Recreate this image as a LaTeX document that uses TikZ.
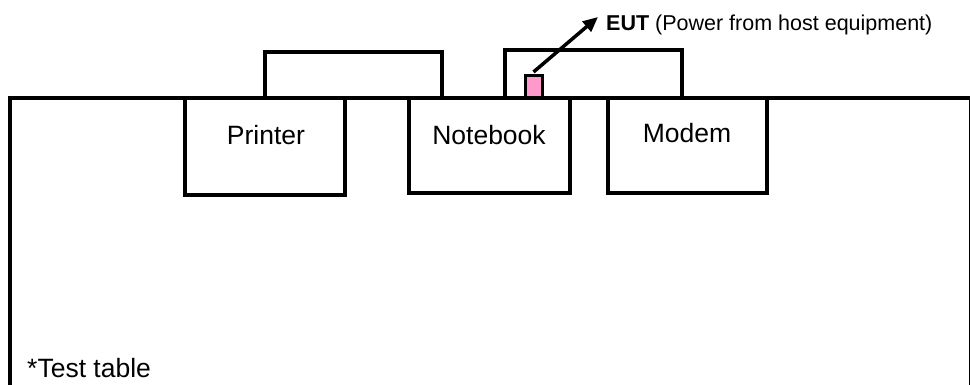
\documentclass[tikz,border=0pt]{standalone}
\usepackage{fontspec}
\setmainfont{Liberation Sans}
\usetikzlibrary{arrows.meta}
\definecolor{eutpink}{HTML}{FF99CC}
\begin{document}
\begin{tikzpicture}[x=1pt,y=-1pt,
  box/.style={draw=black,line width=3.5pt,fill=white,inner sep=0pt,outer sep=0pt,anchor=north west},
  lbl/.style={inner sep=0pt,anchor=base,font=\fontsize{26.5}{30}\selectfont},
  note/.style={inner sep=0pt,anchor=base west,font=\fontsize{21.5}{25}\selectfont},
  pointer/.style={line width=3.5pt,-{Triangle[length=15pt,width=13pt]}}]
\useasboundingbox (0,0) rectangle (970,385);
\begin{scope}
\clip (0,0) rectangle (970,385);
% upper parts
\node[box,minimum width=177pt,minimum height=46pt] (printertop) at (265,52) {};
\node[box,minimum width=177pt,minimum height=48pt] (screen) at (505,50) {};
% table
\draw[line width=3.5pt] (10,430) -- (10,98) -- (971,98) -- (971,430);
% base boxes
\node[box,minimum width=160pt,minimum height=97pt] (printer) at (185,98) {};
\node[box,minimum width=161pt,minimum height=95pt] (notebook) at (409,98) {};
\node[box,minimum width=159pt,minimum height=95pt] (modem) at (608,98) {};
% EUT
\node[draw=black,line width=3pt,fill=eutpink,inner sep=0pt,outer sep=0pt,anchor=north west,minimum width=17pt,minimum height=22pt] (eut) at (525,76) {};
\end{scope}
% labels
\node[lbl] (printerlbl) at (266,145) {Printer};
\node[lbl] (notebooklbl) at (489,145) {Notebook};
\node[lbl] (modemlbl) at (687,143) {Modem};
\node[lbl,anchor=base west] (tablelbl) at (27,377) {*Test table};
\node[note] (eutlbl) at (606,31) {\textbf{EUT} (Power from host equipment)};
\coordinate (tip) at (598,17);
\draw[pointer] ([yshift=4pt]eut.north) -- (tip);
\end{tikzpicture}
\end{document}
